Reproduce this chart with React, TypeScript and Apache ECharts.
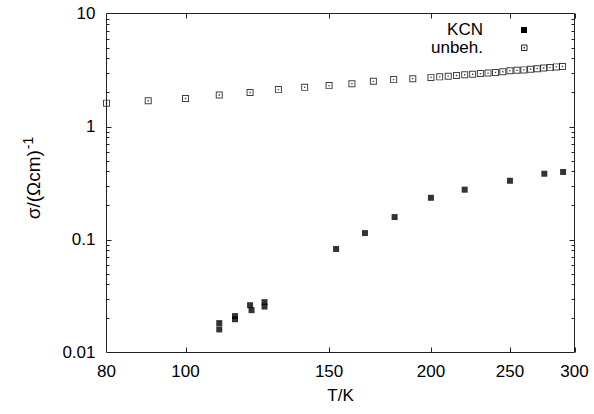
import React, { useEffect, useRef } from "react";
import * as echarts from "echarts";

// unbehandelt (hollow squares)
const unbehT = [80, 90, 100, 110, 120, 130, 140, 150, 160, 170, 180, 190, 200, 205, 210, 215, 220, 225, 230, 235, 240, 245, 250, 255, 260, 265, 270, 275, 280, 285, 290];
const unbehSigma = [1.61, 1.69, 1.77, 1.9, 2.0, 2.12, 2.22, 2.3, 2.39, 2.51, 2.6, 2.65, 2.72, 2.75, 2.79, 2.83, 2.87, 2.9, 2.94, 2.97, 3.01, 3.05, 3.12, 3.14, 3.17, 3.21, 3.25, 3.29, 3.32, 3.37, 3.4];

// KCN (filled squares)
const kcnT = [110, 110, 115, 115, 120, 120.5, 125, 125, 153, 166, 180.5, 200, 220, 250, 275.5, 290.5];
const kcnSigma = [0.0182, 0.016, 0.021, 0.0197, 0.0262, 0.0237, 0.0279, 0.0255, 0.0825, 0.114, 0.158, 0.234, 0.276, 0.331, 0.382, 0.396];

const xTickValues = [80, 100, 150, 200, 250, 300];
const yMajorTicks = [0.1, 1];
const yMinorTicks = [0.02, 0.03, 0.04, 0.05, 0.06, 0.07, 0.08, 0.09, 0.2, 0.3, 0.4, 0.5, 0.6, 0.7, 0.8, 0.9, 2, 3, 4, 5, 6, 7, 8, 9];

const X_MIN = 80;
const X_MAX = 300;
const Y_MIN = 0.01;
const Y_MAX = 10;

const FONT = "Liberation Sans";
const AXIS_COLOR = "#222";
const HOLLOW = "path://M0,0H10V10H0Z M1.4,1.4V8.6H8.6V1.4Z M4,4H6V6H4Z";

export default function App() {
  const ref = useRef<HTMLDivElement>(null);

  useEffect(() => {
    if (!ref.current) return;
    const chart = echarts.init(ref.current, null, { renderer: "svg" });

    const option: any = {
      animation: false,
      backgroundColor: "#fff",
      grid: {
        left: 106.5,
        right: 19.5,
        top: 13.5,
        bottom: 61.5,
        show: true,
        borderColor: AXIS_COLOR,
        borderWidth: 1,
        backgroundColor: "transparent",
      },
      xAxis: {
        type: "log",
        min: X_MIN,
        max: X_MAX,
        axisLine: { show: false },
        axisTick: { show: false },
        axisLabel: { show: false },
        splitLine: { show: false },
      },
      yAxis: {
        type: "log",
        logBase: 10,
        min: Y_MIN,
        max: Y_MAX,
        axisLine: { show: false },
        axisTick: { show: false },
        splitLine: { show: false },
        axisLabel: {
          fontSize: 17,
          fontFamily: FONT,
          color: "#000",
          margin: 11,
        },
      },
      graphic: [
        {
          type: "text",
          x: 340.5,
          y: 395,
          style: {
            text: "T/K",
            fontSize: 17,
            fontFamily: FONT,
            fill: "#000",
            align: "center",
            verticalAlign: "middle",
            textAlign: "center",
            textVerticalAlign: "middle",
          },
        },
        {
          type: "text",
          x: 33,
          y: 178,
          rotation: Math.PI / 2,
          style: {
            text: "{a|σ/(Ωcm)}{b|-1}",
            fill: "#000",
            align: "center",
            verticalAlign: "middle",
            textAlign: "center",
            textVerticalAlign: "middle",
            rich: {
              a: { fontSize: 19, fontFamily: FONT, fill: "#000", lineHeight: 24 },
              b: { fontSize: 14, fontFamily: FONT, fill: "#000", verticalAlign: "top", lineHeight: 24, padding: [0, 0, 0, 1] },
            },
          },
        },
        {
          type: "text",
          x: 483,
          y: 29.5,
          style: {
            text: "KCN",
            fontSize: 17,
            fontFamily: FONT,
            fill: "#000",
            align: "right",
            verticalAlign: "middle",
            textAlign: "right",
            textVerticalAlign: "middle",
          },
        },
        {
          type: "text",
          x: 483,
          y: 47.5,
          style: {
            text: "unbeh.",
            fontSize: 17,
            fontFamily: FONT,
            fill: "#000",
            align: "right",
            verticalAlign: "middle",
            textAlign: "right",
            textVerticalAlign: "middle",
          },
        },
        {
          type: "rect",
          shape: { x: 521, y: 27, width: 6, height: 6 },
          style: { fill: "#000" },
        },
        {
          type: "rect",
          shape: { x: 521.5, y: 45, width: 5.5, height: 5.5 },
          style: { fill: "none", stroke: AXIS_COLOR, lineWidth: 1 },
        },
        {
          type: "rect",
          shape: { x: 523.6, y: 47.1, width: 1.4, height: 1.4 },
          style: { fill: AXIS_COLOR },
        },
      ],
      series: [
        {
          name: "unbeh.",
          type: "scatter",
          symbol: HOLLOW,
          symbolSize: 7,
          itemStyle: { color: "#111" },
          data: unbehT.map((t, i) => [t, unbehSigma[i]]),
          silent: true,
        },
        {
          name: "KCN",
          type: "scatter",
          symbol: "rect",
          symbolSize: 6,
          itemStyle: { color: "#000" },
          data: kcnT.map((t, i) => [t, kcnSigma[i]]),
          silent: true,
        },
        {
          type: "custom",
          silent: true,
          clip: false,
          encode: { x: 0, y: 1 },
          data: xTickValues.map((v, i) => [v, Y_MIN, i === 0 ? 0 : 1]),
          renderItem: (params: any, api: any) => {
            const v = api.value(0);
            const hasTick = api.value(2);
            const pb = api.coord([v, Y_MIN]);
            const pt = api.coord([v, Y_MAX]);
            const children: any[] = [
              {
                type: "text",
                x: pb[0],
                y: pb[1] + 18.5,
                style: {
                  text: String(v),
                  fontSize: 17,
                  fontFamily: FONT,
                  fill: "#000",
                  align: "center",
                  verticalAlign: "middle",
                  textAlign: "center",
                  textVerticalAlign: "middle",
                },
              },
            ];
            if (hasTick) {
              const x = Math.round(pb[0]) + 0.5;
              children.push({
                type: "line",
                shape: { x1: x, y1: pb[1], x2: x, y2: pb[1] - 5 },
                style: { stroke: AXIS_COLOR, lineWidth: 1 },
              });
              children.push({
                type: "line",
                shape: { x1: x, y1: pt[1], x2: x, y2: pt[1] + 5 },
                style: { stroke: AXIS_COLOR, lineWidth: 1 },
              });
            }
            return { type: "group", children };
          },
        },
        {
          type: "custom",
          silent: true,
          clip: false,
          encode: { x: 0, y: 1 },
          data: [
            ...yMajorTicks.map((v) => [X_MIN, v, 5]),
            ...yMinorTicks.map((v) => [X_MIN, v, 3]),
          ],
          renderItem: (params: any, api: any) => {
            const v = api.value(1);
            const len = api.value(2);
            const pl = api.coord([X_MIN, v]);
            const pr = api.coord([X_MAX, v]);
            const y = Math.round(pl[1]) + 0.5;
            return {
              type: "group",
              children: [
                {
                  type: "line",
                  shape: { x1: pl[0], y1: y, x2: pl[0] + len, y2: y },
                  style: { stroke: AXIS_COLOR, lineWidth: 1 },
                },
                {
                  type: "line",
                  shape: { x1: pr[0], y1: y, x2: pr[0] - len, y2: y },
                  style: { stroke: AXIS_COLOR, lineWidth: 1 },
                },
              ],
            };
          },
        },
      ],
    };

    chart.setOption(option);
    return () => {
      chart.dispose();
    };
  }, []);

  return (
    <div
      ref={ref}
      style={{ position: "fixed", left: 0, top: 0, width: 594, height: 414 }}
    />
  );
}
